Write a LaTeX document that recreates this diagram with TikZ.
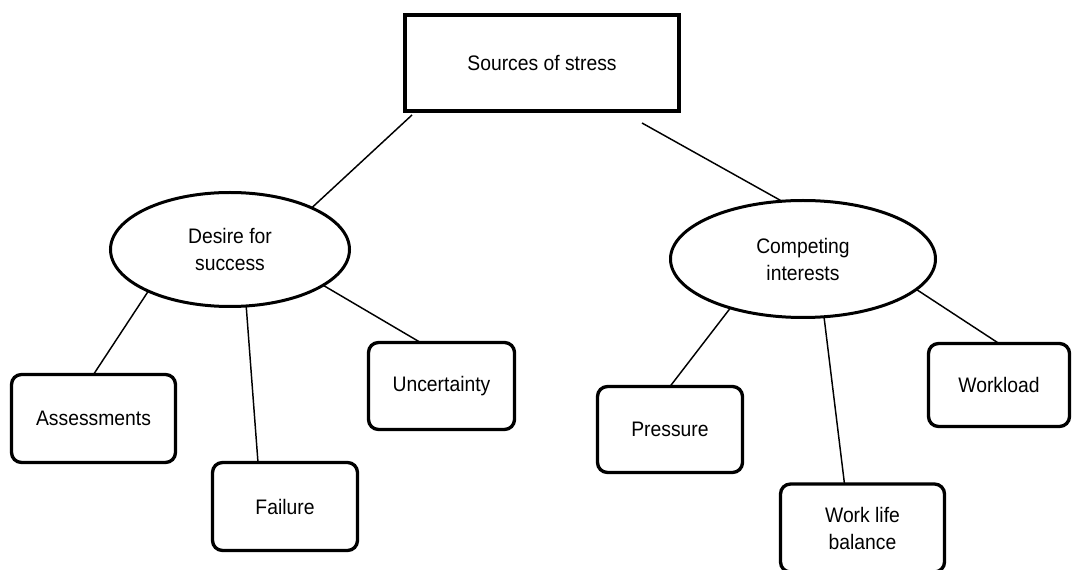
\documentclass[tikz,border=0pt]{standalone}
\usepackage{fontspec}
\setmainfont{Liberation Sans}[FakeStretch=0.92]
\usetikzlibrary{shapes.geometric,calc}
\tikzset{
  topbox/.style={draw, line width=3pt, rectangle, inner sep=0pt, outer sep=0pt, minimum width=205.5pt, minimum height=72pt, align=center},
  leafbox/.style={draw, line width=2.5pt, rectangle, rounded corners=7.5pt, inner sep=0pt, outer sep=0pt, align=center},
  midell/.style={draw, line width=2.25pt, ellipse, inner sep=0pt, outer sep=0pt, align=center},
  link/.style={line width=1.1pt},
}
\begin{document}
\begin{tikzpicture}[x=0.75pt, y=-0.75pt, font=\fontsize{15.75}{20.25}\selectfont]
\useasboundingbox (0,0) rectangle (1072,570);
\node[topbox] (top) at (542,63) {Sources of stress};
\node[midell, minimum width=179.25pt, minimum height=85.5pt] (desire) at (230,249.5) {Desire for\\success};
\node[midell, minimum width=198.75pt, minimum height=87.75pt] (comp) at (803,259) {Competing\\interests};
\node[leafbox, minimum width=123pt, minimum height=66pt] (assess) at (93.5,418.5) {Assessments};
\node[leafbox, minimum width=108.75pt, minimum height=66pt] (failure) at (285,506.5) {Failure};
\node[leafbox, minimum width=109.5pt, minimum height=65.25pt] (uncert) at (441.5,386) {Uncertainty};
\node[leafbox, minimum width=108.75pt, minimum height=64.5pt] (pressure) at (670,429.5) {Pressure};
\node[leafbox, minimum width=123pt, minimum height=66pt] (wlb) at (862.5,528) {Work life\\balance};
\node[leafbox, minimum width=105.75pt, minimum height=62.25pt] (workload) at (999,385) {Workload};
\draw[link] ($(top.south west)+(7,4)$) -- (desire.27);
\draw[link] ($(top.south)+(100,12)$) -- (comp.110);
\draw[link] (desire.207) -- (assess.north);
\draw[link] (desire.-74) -- ($(failure.north)+(-27,0)$);
\draw[link] (desire.-21) -- ($(uncert.north)+(-21,0)$);
\draw[link] (comp.214) -- (pressure.north);
\draw[link] (comp.-70) -- ($(wlb.north)+(-18,0)$);
\draw[link] (comp.-15) -- (workload.north);
\end{tikzpicture}
\end{document}
